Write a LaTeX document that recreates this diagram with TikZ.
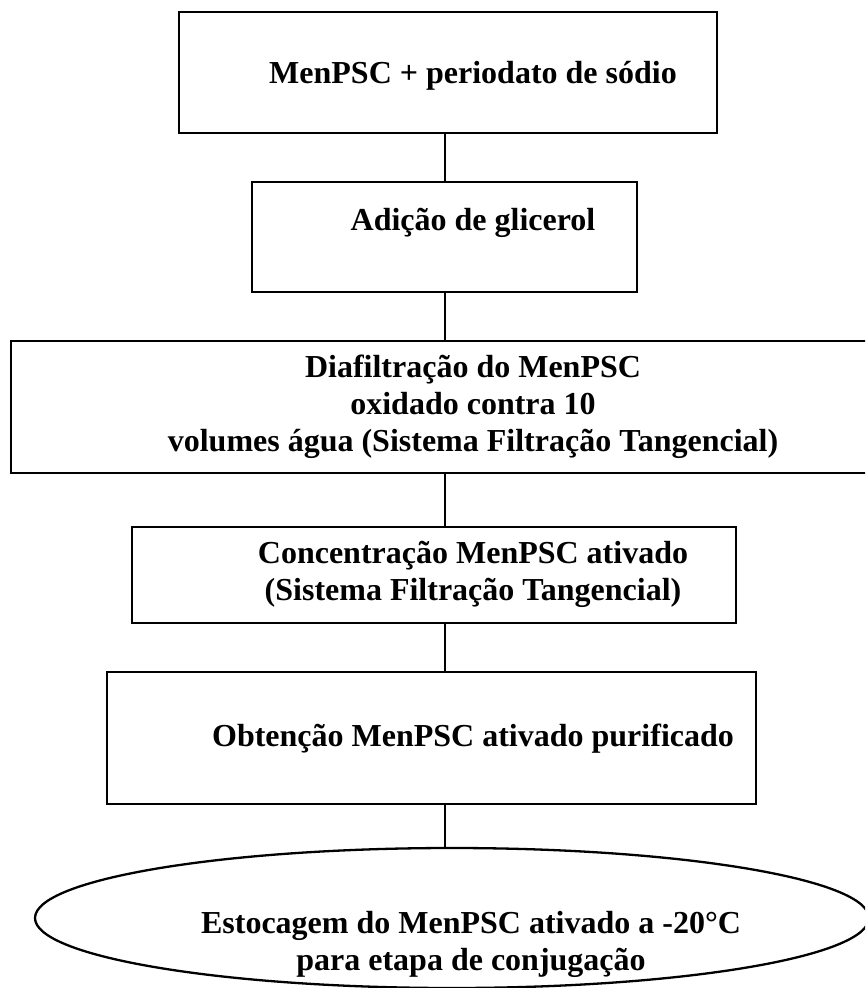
\documentclass[tikz,border=0pt]{standalone}
\usepackage{fontspec}
\setmainfont{Liberation Serif}
\usepackage{tikz}
\usetikzlibrary{shapes,arrows,positioning}
\tikzstyle{block} = [rectangle, draw, line width=2.3pt, inner sep=0pt, outer sep=0pt]
\tikzstyle{finalblock} = [ellipse, draw, line width=2.3pt, inner sep=0pt, outer sep=0pt]
\tikzstyle{steptext} = [font=\bfseries\fontsize{32}{37}\selectfont, align=center,
    anchor=base, inner sep=0pt]
\tikzstyle{link} = [line width=2.3pt]

\begin{document}
\begin{tikzpicture}[x=1pt, y=-1pt]
    \useasboundingbox (0,0) rectangle (865,988);
    \clip (0,0) rectangle (865,988);

    % Place nodes
	\node [block, minimum width=538pt, minimum height=121pt] (Mix) at (448,72.5) {};
	\node [block, minimum width=385pt, minimum height=110pt] (Glicerol) at (444.5,237) {};
	\node [block, minimum width=868pt, minimum height=132pt] (Diafiltracao) at (445,407) {};
	\node [block, minimum width=604pt, minimum height=96pt] (Concentracao) at (434,575) {};
	\node [block, minimum width=649pt, minimum height=132pt] (Obtencao) at (431.5,738) {};
	\node [finalblock, minimum width=834pt, minimum height=140pt] (Estocagem) at (452,918) {};

    % Texts (base = last line)
	\node [steptext] (MixText) at (473,83) {MenPSC + periodato de sódio};
	\node [steptext] (GlicerolText) at (473,230) {Adição de glicerol};
	\node [steptext] (DiafiltracaoText) at (473,451) {Diafiltração do MenPSC\\ oxidado contra 10\\ volumes água (Sistema Filtração Tangencial)};
	\node [steptext] (ConcentracaoText) at (473,600) {Concentração MenPSC ativado\\ (Sistema Filtração Tangencial)};
	\node [steptext] (ObtencaoText) at (473,746) {Obtenção MenPSC ativado purificado};
	\node [steptext] (EstocagemText) at (471,970) {Estocagem do MenPSC ativado a -20°C\\ para etapa de conjugação};

    % Connect nodes
	\coordinate (Axis) at (445,0);
	\draw [link] (Mix.south -| Axis) -- (Glicerol.north -| Axis);
	\draw [link] (Glicerol.south -| Axis) -- (Diafiltracao.north -| Axis);
	\draw [link] (Diafiltracao.south -| Axis) -- (Concentracao.north -| Axis);
	\draw [link] (Concentracao.south -| Axis) -- (Obtencao.north -| Axis);
	\draw [link] (Obtencao.south -| Axis) -- (Estocagem.north -| Axis);

\end{tikzpicture}
\end{document}
